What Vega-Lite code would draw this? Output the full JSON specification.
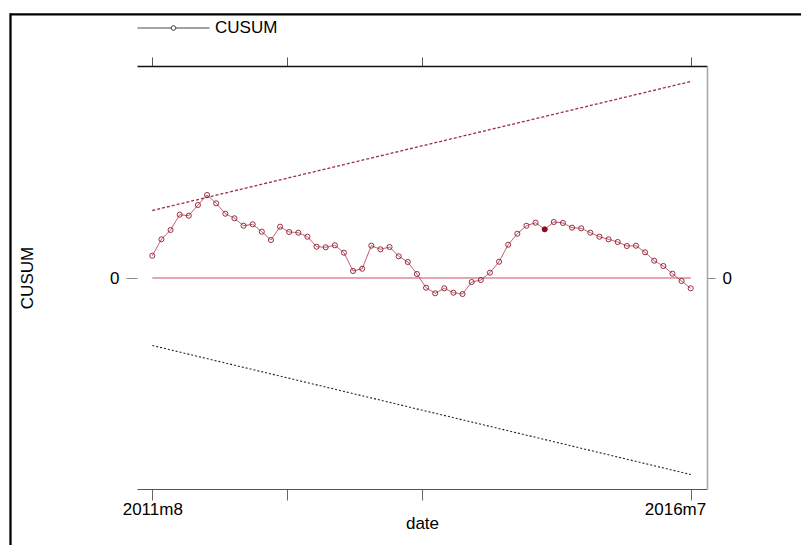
{
  "$schema": "https://vega.github.io/schema/vega-lite/v6.json",
  "width": 570,
  "height": 423,
  "autosize": {"type": "none"},
  "padding": {"left": 137, "top": 66, "right": 94, "bottom": 56},
  "background": "white",
  "config": {
    "view": {"stroke": null},
    "font": "Liberation Sans",
    "axis": {
      "labelFont": "Liberation Sans",
      "titleFont": "Liberation Sans",
      "labelFontSize": 17,
      "titleFontSize": 17,
      "titleFontWeight": "normal",
      "labelColor": "#000",
      "titleColor": "#000",
      "grid": false,
      "labelFlush": false,
      "labelOverlap": false,
      "labelBound": false
    }
  },
  "datasets": {
    "cusum": [
      {"t": 0, "v": 22.3}, {"t": 1, "v": 38.7}, {"t": 2, "v": 48}, {"t": 3, "v": 63.3},
      {"t": 4, "v": 62.3}, {"t": 5, "v": 73}, {"t": 6, "v": 83}, {"t": 7, "v": 74.7},
      {"t": 8, "v": 64.3}, {"t": 9, "v": 59.7}, {"t": 10, "v": 52.3}, {"t": 11, "v": 53.7},
      {"t": 12, "v": 46.3}, {"t": 13, "v": 38}, {"t": 14, "v": 51.3}, {"t": 15, "v": 46},
      {"t": 16, "v": 45.3}, {"t": 17, "v": 41.3}, {"t": 18, "v": 31.3}, {"t": 19, "v": 30.7},
      {"t": 20, "v": 32.7}, {"t": 21, "v": 25.3}, {"t": 22, "v": 7}, {"t": 23, "v": 9.3},
      {"t": 24, "v": 32.3}, {"t": 25, "v": 28.7}, {"t": 26, "v": 31}, {"t": 27, "v": 21.7},
      {"t": 28, "v": 16}, {"t": 29, "v": 4}, {"t": 30, "v": -9.7}, {"t": 31, "v": -15.3},
      {"t": 32, "v": -10.3}, {"t": 33, "v": -14.7}, {"t": 34, "v": -16}, {"t": 35, "v": -4},
      {"t": 36, "v": -2}, {"t": 37, "v": 5.3}, {"t": 38, "v": 16.3}, {"t": 39, "v": 33.3},
      {"t": 40, "v": 44.3}, {"t": 41, "v": 52.3}, {"t": 42, "v": 55.3}, {"t": 43, "v": 48.7},
      {"t": 44, "v": 56}, {"t": 45, "v": 55}, {"t": 46, "v": 50.3}, {"t": 47, "v": 49.7},
      {"t": 48, "v": 45.3}, {"t": 49, "v": 41.3}, {"t": 50, "v": 38.7}, {"t": 51, "v": 36},
      {"t": 52, "v": 32}, {"t": 53, "v": 32.3}, {"t": 54, "v": 25.7}, {"t": 55, "v": 17.3},
      {"t": 56, "v": 12}, {"t": 57, "v": 4.3}, {"t": 58, "v": -3}, {"t": 59, "v": -10.3}
    ],
    "bounds": [
      {"t": 0, "upper": 67.5, "lower": -67.5},
      {"t": 59, "upper": 196.5, "lower": -196.5}
    ]
  },
  "resolve": {"axis": {"x": "independent", "y": "independent"}},
  "layer": [
    {
      "data": {"values": [{}]},
      "mark": {"type": "rule", "stroke": "#000", "strokeWidth": 2.3, "clip": false},
      "encoding": {
        "x": {"datum": -15.54, "type": "quantitative", "scale": {"domain": [-1.677, 60.786], "nice": false, "zero": false}, "axis": null},
        "x2": {"datum": 90},
        "y": {"datum": 263.7, "type": "quantitative", "scale": {"domain": [-211, 212], "nice": false, "zero": false}, "axis": null}
      }
    },
    {
      "data": {"values": [{}]},
      "mark": {"type": "rule", "stroke": "#000", "strokeWidth": 2.3, "clip": false},
      "encoding": {
        "x": {"datum": -15.54, "type": "quantitative", "axis": null},
        "y": {"datum": 264.8, "type": "quantitative", "axis": null},
        "y2": {"datum": -400}
      }
    },
    {
      "data": {"values": [{}]},
      "mark": {"type": "rule", "stroke": "#dc8a95", "strokeWidth": 1.3},
      "encoding": {
        "x": {"datum": 0, "type": "quantitative", "axis": null},
        "x2": {"datum": 59},
        "y": {"datum": 0, "type": "quantitative", "axis": null}
      }
    },
    {
      "data": {"name": "bounds"},
      "mark": {"type": "line", "stroke": "#9b2d43", "strokeWidth": 1.3, "strokeDash": [3, 2]},
      "encoding": {
        "x": {"field": "t", "type": "quantitative", "axis": null},
        "y": {"field": "upper", "type": "quantitative", "axis": null}
      }
    },
    {
      "data": {"name": "bounds"},
      "mark": {"type": "line", "stroke": "#222", "strokeWidth": 1.1, "strokeDash": [2, 2]},
      "encoding": {
        "x": {"field": "t", "type": "quantitative", "axis": null},
        "y": {"field": "lower", "type": "quantitative", "axis": null}
      }
    },
    {
      "data": {"name": "cusum"},
      "mark": {"type": "line", "stroke": "#b03a4e", "strokeWidth": 0.9},
      "encoding": {
        "x": {
          "field": "t", "type": "quantitative",
          "axis": {
            "orient": "bottom",
            "values": [0, 14.75, 29.5, 59],
            "labelExpr": "datum.value == 0 ? '2011m8' : datum.value == 59 ? '2016m7' : ''",
            "labelAlign": {"condition": {"test": "datum.value == 59", "value": "right"}, "value": "center"},
            "labelOffset": {"condition": {"test": "datum.value == 59", "value": 15}, "value": 0},
            "tickSize": 11,
            "tickColor": "#666",
            "domainColor": "#555",
            "domainWidth": 1.2,
            "labelPadding": 1,
            "title": "date",
            "titlePadding": -2
          }
        },
        "y": {
          "field": "v", "type": "quantitative",
          "axis": {
            "orient": "left",
            "values": [0],
            "tickSize": 11,
            "tickColor": "#888",
            "domain": false,
            "labelPadding": 7,
            "title": "CUSUM",
            "titlePadding": 73
          }
        },
        "strokeDash": {
          "datum": "CUSUM",
          "scale": {"range": [[1, 0]]},
          "legend": {
            "orient": "none",
            "legendX": 0,
            "legendY": -74.5,
            "title": null,
            "padding": 0,
            "symbolType": "M-1,0H-0.064M0.064,0H1M0.064,0A0.064,0.064,0,1,1,-0.064,0A0.064,0.064,0,1,1,0.064,0",
            "symbolSize": 5184,
            "symbolStrokeWidth": 1,
            "symbolStrokeColor": "#333",
            "symbolFillColor": "transparent",
            "labelFont": "Liberation Sans",
            "labelFontSize": 17,
            "labelColor": "#000",
            "labelOffset": 5
          }
        }
      }
    },
    {
      "data": {"name": "cusum"},
      "mark": {"type": "point", "shape": "circle", "filled": false, "size": 26, "stroke": "#8b1a2c", "strokeWidth": 0.9, "opacity": 1},
      "encoding": {
        "x": {
          "field": "t", "type": "quantitative",
          "axis": {
            "orient": "top",
            "values": [0, 14.75, 29.5, 59],
            "labels": false,
            "tickSize": 9,
            "tickColor": "#555",
            "domainColor": "#111",
            "domainWidth": 1.3,
            "title": null
          }
        },
        "y": {
          "field": "v", "type": "quantitative",
          "axis": {
            "orient": "right",
            "values": [0],
            "tickSize": 8,
            "tickColor": "#888",
            "domain": true,
            "domainColor": "#aaa",
            "domainWidth": 1.6,
            "labelPadding": 7,
            "title": null
          }
        }
      }
    },
    {
      "data": {"name": "cusum"},
      "transform": [{"filter": "datum.t == 43"}],
      "mark": {"type": "point", "shape": "circle", "filled": true, "size": 28, "fill": "#8b0a1e", "opacity": 1},
      "encoding": {
        "x": {"field": "t", "type": "quantitative", "axis": null},
        "y": {"field": "v", "type": "quantitative", "axis": null}
      }
    }
  ]
}
